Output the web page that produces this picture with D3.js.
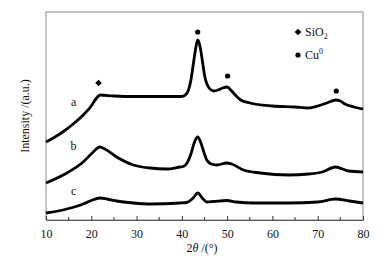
<!DOCTYPE html>
<html>
<head>
<meta http-equiv="Content-Type" content="text/html; charset=UTF-8">
<style>
body { margin: 0; background: #fff; }
svg text { font-family: "Liberation Serif", "DejaVu Serif", serif; fill: #111; }
</style>
</head>
<body>
<div class="container"></div>
<script src="https://cdn.jsdelivr.net/npm/d3@7"></script>
<script>

// 2theta positions and intensities (a.u.)
var thetaA = [10, 12, 14, 16, 18, 20, 21, 22, 25, 30, 35, 40, 41, 42, 42.5, 43, 43.5, 44, 44.5, 45, 46, 47, 48, 49, 50, 51, 52, 53, 55, 60, 65, 68, 70, 72, 74, 75, 76, 78, 80];
var seriesA = [78, 83, 89, 96, 104, 114, 121, 125, 124, 123.5, 123.5, 123.5, 126, 140, 155, 170, 180, 174, 160, 145, 132, 129, 130, 132, 133, 129, 124, 120, 117, 114, 113, 112, 114, 117, 120, 119, 116, 113, 111];

var thetaB = [10, 14.6, 18.2, 20, 21.9, 23, 25.6, 29.3, 33, 36.7, 39.6, 40.3, 41, 42, 42.8, 43.5, 44.2, 45, 45.5, 46.5, 47.7, 49.9, 51, 53.6, 57.3, 63.6, 68, 71, 73.9, 76.8, 80];
var seriesB = [37, 47, 58, 66, 73, 71, 63, 55, 52, 51, 53, 53.5, 56, 66, 78, 83, 77, 66, 60, 56, 55, 57, 56, 50, 47, 45, 46, 48, 53, 49, 48];

var thetaC = [10, 14.6, 18.2, 20, 21.9, 23.5, 25.6, 29.3, 33, 39.6, 41, 42.5, 43.5, 44.5, 45.5, 47, 49.9, 52, 56.1, 63.6, 70, 73.9, 77, 80];
var seriesC = [7, 11, 16, 19.5, 22, 21, 19, 17, 16, 17, 17.5, 22, 27, 22, 18, 18.5, 19.5, 18, 17, 17, 18, 21, 19, 17];

var curveLabels = ["a", "b", "c"];
var labelAt = [[16.1, 114], [16.1, 70], [16.1, 25]];

// peak markers: SiO2 (diamond) and Cu0 (circle)
var sio2Peaks = [[21.6, 137]];
var cuPeaks = [[43.5, 188], [50.1, 144], [74.1, 129]];

var xTicks = [10, 20, 30, 40, 50, 60, 70, 80];
var xMinor = [15, 25, 35, 45, 55, 65, 75];

var width = 380, height = 259;
var margin = { left: 46, right: 17, top: 12, bottom: 39 };
var serif = "Liberation Serif, DejaVu Serif, serif";

var svg = d3.select(".container").append("svg")
    .attr("width", width)
    .attr("height", height);

var x = d3.scaleLinear().domain([10, 80]).range([margin.left, width - margin.right]);
var y = d3.scaleLinear().domain([0, 208]).range([height - margin.bottom, margin.top]);

// frame
svg.append("rect")
    .attr("x", x(10)).attr("y", y(208))
    .attr("width", x(80) - x(10)).attr("height", y(0) - y(208))
    .attr("fill", "none").attr("stroke", "#8a8a8a").attr("stroke-width", 1);

// bottom axis with inward ticks
var xAxis = d3.axisBottom(x).tickValues(xTicks).tickSizeInner(-4).tickSizeOuter(0).tickPadding(9);
var gx = svg.append("g").attr("transform", "translate(0," + y(0) + ")").call(xAxis)
    .attr("font-family", serif).attr("font-size", 12);
gx.select(".domain").attr("stroke", "#555");
gx.selectAll(".tick line").attr("stroke", "#333");
gx.selectAll("text").attr("fill", "#111");

svg.append("g").selectAll("line").data(xMinor).enter().append("line")
    .attr("x1", function(d) { return x(d); }).attr("x2", function(d) { return x(d); })
    .attr("y1", y(0)).attr("y2", y(0) - 3)
    .attr("stroke", "#333");

var line = d3.line().curve(d3.curveMonotoneX);

var curves = [[thetaA, seriesA], [thetaB, seriesB], [thetaC, seriesC]];
curves.forEach(function(c) {
    var pts = c[0].map(function(t, i) { return [x(t), y(c[1][i])]; });
    svg.append("path")
        .attr("d", line(pts))
        .attr("fill", "none")
        .attr("stroke", "#000")
        .attr("stroke-width", 2.8)
        .attr("stroke-linejoin", "round");
});

// curve labels
svg.selectAll(".clabel").data(curveLabels).enter().append("text")
    .attr("class", "clabel")
    .attr("x", function(d, i) { return x(labelAt[i][0]); })
    .attr("y", function(d, i) { return y(labelAt[i][1]); })
    .attr("text-anchor", "middle")
    .attr("font-size", 12)
    .text(function(d) { return d; });

// diamond = square turned 45 degrees
var diamond = d3.symbol().type(d3.symbolSquare).size(22);

svg.selectAll(".dia").data(sio2Peaks).enter().append("path")
    .attr("d", diamond)
    .attr("transform", function(d) { return "translate(" + x(d[0]) + "," + y(d[1]) + ") rotate(45)"; })
    .attr("fill", "#000");

svg.selectAll(".dot").data(cuPeaks).enter().append("circle")
    .attr("cx", function(d) { return x(d[0]); })
    .attr("cy", function(d) { return y(d[1]); })
    .attr("r", 2.6)
    .attr("fill", "#000");

// legend
var legend = svg.append("g").attr("transform", "translate(298,32)");
legend.append("path").attr("d", diamond).attr("transform", "rotate(45)").attr("fill", "#000");
var t1 = legend.append("text").attr("x", 7).attr("y", 4).attr("font-size", 12).text("SiO");
t1.append("tspan").attr("dy", 3).attr("font-size", 8).text("2");
legend.append("circle").attr("cx", 0).attr("cy", 23).attr("r", 2.6).attr("fill", "#000");
var t2 = legend.append("text").attr("x", 7).attr("y", 27).attr("font-size", 12).text("Cu");
t2.append("tspan").attr("dy", -5).attr("font-size", 8).text("0");

// axis titles
var xt = svg.append("text")
    .attr("x", 202).attr("y", 252)
    .attr("text-anchor", "middle")
    .attr("font-size", 12);
xt.append("tspan").text("2");
xt.append("tspan").attr("font-style", "italic").text("θ");
xt.append("tspan").text(" /(°)");

svg.append("text")
    .attr("transform", "translate(29," + ((y(0) + y(208)) / 2) + ") rotate(-90)")
    .attr("text-anchor", "middle")
    .attr("font-size", 12)
    .text("Intensity /(a.u.)");

</script>
</body>
</html>
